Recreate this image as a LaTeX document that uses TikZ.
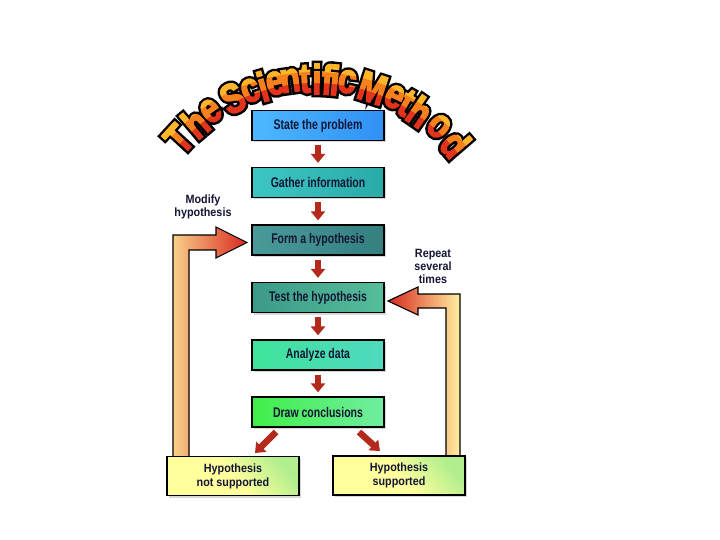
\documentclass[tikz,border=0pt]{standalone}
\usepackage{fontspec}
\setmainfont{Liberation Sans}
\newfontfamily\boxfont{Liberation Sans}[FakeStretch=0.75]
\newfontfamily\labfont{Liberation Sans}[FakeStretch=0.9]
\newfontfamily\titlefont{Liberation Sans}[FakeStretch=0.78, FakeBold=3]
\newfontfamily\titleedge{Liberation Sans}[FakeStretch=0.78, FakeBold=15]
\usetikzlibrary{arrows.meta,shadows,calc}
\definecolor{txt}{HTML}{151535}
\definecolor{arr}{HTML}{B32A1C}
\definecolor{ttlR}{HTML}{E2341C}
\definecolor{ttlO}{HTML}{F5801E}
\definecolor{ttlY}{HTML}{FBB62A}
\definecolor{lightA}{HTML}{F9D08A}
\definecolor{lightB}{HTML}{FFF0A0}
\definecolor{redA}{HTML}{D8281E}
\definecolor{HTML-green}{HTML}{B2EE8E}
\definecolor{HTML-yellow}{HTML}{FFFF9C}
\definecolor{HTML-s1a}{HTML}{4DB8FF}
\definecolor{HTML-s1b}{HTML}{3090F4}
\definecolor{HTML-s2a}{HTML}{3CC7C4}
\definecolor{HTML-s2b}{HTML}{2AAAA8}
\definecolor{HTML-s3a}{HTML}{4A9A9A}
\definecolor{HTML-s3b}{HTML}{347F80}
\definecolor{HTML-s4a}{HTML}{3B9A88}
\definecolor{HTML-s4b}{HTML}{55BE9A}
\definecolor{HTML-s5a}{HTML}{3FE39A}
\definecolor{HTML-s5b}{HTML}{4FD9C0}
\definecolor{HTML-s6a}{HTML}{40EE48}
\definecolor{HTML-s6b}{HTML}{70EEA0}
\tikzset{
  stepbox/.style={draw=black, line width=1.3pt, minimum width=132pt, minimum height=30pt,
    inner sep=0pt, font=\boxfont\bfseries\fontsize{14}{16}\selectfont, text=txt,
    drop shadow={shadow xshift=2pt, shadow yshift=-2pt, opacity=0.3}},
  endbox/.style={draw=black, line width=1.3pt, minimum width=132pt, minimum height=39pt,
    inner sep=0pt, align=center, font=\labfont\bfseries\fontsize{12}{14}\selectfont, text=txt,
    top color=HTML-green, bottom color=HTML-yellow, middle color=HTML-yellow, shading angle=-50,
    drop shadow={shadow xshift=2pt, shadow yshift=-2pt, opacity=0.3}},
  sidelabel/.style={align=center, font=\labfont\bfseries\fontsize{12}{13}\selectfont, text=txt, inner sep=0pt},
  smallarrow/.style={line width=6.5pt, draw=arr, -{Triangle[width=14pt,length=9pt]}},
  bigarrow/.style={draw=black, line width=1.1pt, line join=miter},
  letteredge/.style={font=\titleedge\bfseries\fontsize{42}{42}\selectfont, inner sep=0pt, text=black},
  letterfill/.style={font=\titlefont\bfseries\fontsize{42}{42}\selectfont, inner sep=0pt},
}
\newcommand\titleletters[2]{% #1 = style, #2 = name prefix
  \foreach \ch/\ang [count=\i] in {T/137.4, h/130.3, e/124.3, S/116.4, c/110.4, i/106.4, e/102.4, n/97.7, t/93.1, i/89.4, f/86.2, i/83.8, c/80.0, M/71.9, e/64.6, t/60.4, h/55.4, o/48.0, d/40.6}
    \node[#1, rotate=\ang-90] (#2\i) at ({315+185*cos(\ang)},{264-185*sin(\ang)}) {\ch};}
\begin{document}
\begin{tikzpicture}[x=1pt,y=-1pt]
\useasboundingbox[fill=white] (0,0) rectangle (720,540);

% big feedback arrows
\path[bigarrow, left color=lightA, right color=redA]
  (173,458) -- (173,235) -- (216,235) -- (216,227) -- (247,242.5) -- (216,258)
  -- (216,250) -- (189,250) -- (189,458) -- cycle;
\path[bigarrow, left color=redA, right color=lightB]
  (460,458) -- (460,294) -- (418,294) -- (418,287) -- (388,301) -- (418,315)
  -- (418,308) -- (446,308) -- (446,458) -- cycle;

% step boxes
\node[stepbox, left color=HTML-s1a, right color=HTML-s1b] (s1) at (318,125.5) {State the problem};
\node[stepbox, left color=HTML-s2a, right color=HTML-s2b] (s2) at (318,182.5) {Gather information};
\node[stepbox, left color=HTML-s3a, right color=HTML-s3b] (s3) at (318,240) {Form a hypothesis};
\node[stepbox, left color=HTML-s4a, right color=HTML-s4b] (s4) at (318,297.5) {Test the hypothesis};
\node[stepbox, left color=HTML-s5a, right color=HTML-s5b] (s5) at (318,355) {Analyze data};
\node[stepbox, left color=HTML-s6a, right color=HTML-s6b] (s6) at (318,412) {Draw conclusions};

\node[endbox] (b1) at (233,476) {Hypothesis\\not supported};
\node[endbox] (b2) at (399,475.5) {Hypothesis\\supported};

% labels
\node[sidelabel] (l1) at (203,207) {Modify\\hypothesis};
\node[sidelabel] (l2) at (433,266) {Repeat\\several\\times};

% small arrows
\foreach \a/\b in {s1/s2,s2/s3,s3/s4,s4/s5,s5/s6}
  \draw[smallarrow, shorten <=4pt, shorten >=4pt] (\a) -- (\b);
\coordinate (d1) at (276,432);
\coordinate (d2) at (255,453);
\coordinate (d3) at (359,432);
\coordinate (d4) at (380,451);
\draw[smallarrow] (d1) -- (d2);
\draw[smallarrow] (d3) -- (d4);

% title letters along an arc: black edge, then red / orange / yellow bands
\titleletters{letteredge}{e}
\titleletters{letterfill, text=ttlR}{r}
\begin{scope}[even odd rule]
  \clip (0,0) rectangle (720,540) (315,264) circle[radius=181pt];
  \titleletters{letterfill, text=ttlO}{o}
\end{scope}
\begin{scope}[even odd rule]
  \clip (0,0) rectangle (720,540) (315,264) circle[radius=192pt];
  \titleletters{letterfill, text=ttlY}{y}
\end{scope}
\end{tikzpicture}
\end{document}
